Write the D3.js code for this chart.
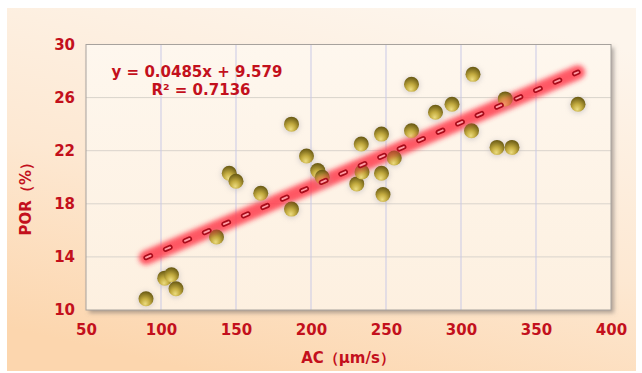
<!DOCTYPE html>
<html>
<head>
<meta charset="utf-8">
<script src="https://cdn.jsdelivr.net/npm/d3@7"></script>
<style>
  body { margin: 0; background: #fff; }
  text { font-family: "DejaVu Sans", Verdana, sans-serif; font-weight: bold; }
</style>
</head>
<body>
<div id="chart"></div>
<script>
// AC (um/s) and POR (%)
const acValues = [90, 102.5, 107, 110, 137, 145.5, 150, 166.5, 187, 187,
    197, 204.5, 207.5, 230.5, 233.5, 234, 247, 247, 248, 255.5,
    267, 267, 283, 294, 307, 308, 324, 334, 329.5, 378];
const porValues = [10.85, 12.4, 12.65, 11.6, 15.5, 20.3, 19.7, 18.8, 17.6, 24.0,
    21.6, 20.5, 20.0, 19.5, 22.5, 20.4, 23.25, 20.3, 18.7, 21.45,
    23.5, 27.0, 24.9, 25.5, 23.5, 27.75, 22.25, 22.25, 25.9, 25.5];
const xTicks = [50, 100, 150, 200, 250, 300, 350, 400];
const yTicks = [10, 14, 18, 22, 26, 30];
const slope = 0.0485;
const intercept = 9.579;
const eqLabel = 'y = 0.0485x + 9.579';
const r2Label = 'R² = 0.7136';
const xTitle = 'AC（μm/s）';
const yTitle = 'POR（%）';

const width = 642;
const height = 373;
const margin = {top: 44.5, right: 31, bottom: 63, left: 86};
const red = '#c3101c';

const x = d3.scaleLinear()
    .domain([50, 400])
    .range([margin.left, width - margin.right]);
const y = d3.scaleLinear()
    .domain([10, 30])
    .range([height - margin.bottom, margin.top]);

const svg = d3.select('#chart').append('svg')
    .attr('width', width)
    .attr('height', height);

const defs = svg.append('defs');

// page background, cream at top to peach at bottom
const bg = defs.append('linearGradient')
    .attr('id', 'bg')
    .attr('x1', 0.7).attr('y1', 0).attr('x2', 0.3).attr('y2', 1);
bg.append('stop').attr('offset', '0%').attr('stop-color', '#fdf5ec');
bg.append('stop').attr('offset', '55%').attr('stop-color', '#fde8d2');
bg.append('stop').attr('offset', '100%').attr('stop-color', '#fcd6ae');

const plotBg = defs.append('linearGradient')
    .attr('id', 'plotbg')
    .attr('x1', 0).attr('y1', 0).attr('x2', 0).attr('y2', 1);
plotBg.append('stop').attr('offset', '0%').attr('stop-color', '#fef7ee');
plotBg.append('stop').attr('offset', '100%').attr('stop-color', '#fdf0e0');

// shiny olive ball
const ball = defs.append('radialGradient')
    .attr('id', 'ball')
    .attr('cx', '45%').attr('cy', '70%').attr('r', '65%')
    .attr('fx', '45%').attr('fy', '85%');
ball.append('stop').attr('offset', '0%').attr('stop-color', '#ecdc80');
ball.append('stop').attr('offset', '45%').attr('stop-color', '#c4ac40');
ball.append('stop').attr('offset', '100%').attr('stop-color', '#6e5e16');

const shadow = defs.append('filter')
    .attr('id', 'shadow')
    .attr('x', '-10%').attr('y', '-10%').attr('width', '130%').attr('height', '130%');
shadow.append('feDropShadow')
    .attr('dx', 3).attr('dy', 3).attr('stdDeviation', 2)
    .attr('flood-color', '#6f6a66').attr('flood-opacity', 0.55);

const halo = defs.append('filter')
    .attr('id', 'halo')
    .attr('x', '-100%').attr('y', '-100%').attr('width', '300%').attr('height', '300%');
halo.append('feGaussianBlur').attr('stdDeviation', 2.5);

const glow = defs.append('filter')
    .attr('id', 'glow')
    .attr('x', '-20%').attr('y', '-50%').attr('width', '140%').attr('height', '200%');
glow.append('feGaussianBlur').attr('stdDeviation', 2.4);

svg.append('rect')
    .attr('x', 7).attr('y', 8)
    .attr('width', 629).attr('height', 363)
    .attr('fill', 'url(#bg)');

// plot area with drop shadow
svg.append('rect')
    .attr('x', x(50)).attr('y', y(30))
    .attr('width', x(400) - x(50)).attr('height', y(10) - y(30))
    .attr('fill', 'url(#plotbg)')
    .attr('filter', 'url(#shadow)');

// grid
svg.append('g')
    .selectAll('line')
    .data(yTicks.slice(1, -1))
    .join('line')
        .attr('x1', x(50)).attr('x2', x(400))
        .attr('y1', d => y(d)).attr('y2', d => y(d))
        .attr('stroke', '#d9d3cc')
        .attr('stroke-width', 1);
svg.append('g')
    .selectAll('line')
    .data(xTicks.slice(1, -1))
    .join('line')
        .attr('x1', d => x(d)).attr('x2', d => x(d))
        .attr('y1', y(30)).attr('y2', y(10))
        .attr('stroke', '#c9c9e6')
        .attr('stroke-width', 1);

svg.append('rect')
    .attr('x', x(50)).attr('y', y(30))
    .attr('width', x(400) - x(50)).attr('height', y(10) - y(30))
    .attr('fill', 'none')
    .attr('stroke', '#a7a29d')
    .attr('stroke-width', 1);

// axes, only the labels are shown
const xAxis = g =>
    g
        .attr('transform', `translate(0,${y(10) + 14})`)
        .call(d3.axisBottom(x).tickValues(xTicks).tickSize(0).tickPadding(0))
        .call(g => g.select('.domain').remove())
        .call(g => g.selectAll('.tick text')
                    .attr('dy', '0.71em')
                    .attr('fill', red)
                    .attr('font-size', '15px')
                    .attr('font-family', '"DejaVu Sans", sans-serif'));
const yAxis = g =>
    g
        .attr('transform', `translate(${x(50) - 11},0)`)
        .call(d3.axisLeft(y).tickValues(yTicks).tickSize(0).tickPadding(0))
        .call(g => g.select('.domain').remove())
        .call(g => g.selectAll('.tick text')
                    .attr('fill', red)
                    .attr('font-size', '15px')
                    .attr('font-family', '"DejaVu Sans", sans-serif'));

svg.append('g').call(xAxis);
svg.append('g').call(yAxis);

// trend line: blurred red glow + chain of dashes
const xMin = d3.min(acValues);
const xMax = d3.max(acValues);
const trend = [[xMin, slope * xMin + intercept], [xMax, slope * xMax + intercept]];
const line = d3.line().x(d => x(d[0])).y(d => y(d[1]));

svg.append('path')
    .attr('d', line(trend))
    .attr('stroke', '#ff3246')
    .attr('stroke-opacity', 0.7)
    .attr('stroke-width', 14)
    .attr('stroke-linecap', 'round')
    .attr('fill', 'none')
    .attr('filter', 'url(#glow)');

// points
const pts = d3.zip(acValues, porValues);
svg.append('g')
    .selectAll('circle')
    .data(pts)
    .join('circle')
        .attr('cx', d => x(d[0]))
        .attr('cy', d => y(d[1]) + 1)
        .attr('r', 8.5)
        .attr('fill', '#b9b4b8')
        .attr('opacity', 0.5)
        .attr('filter', 'url(#halo)');
svg.append('g')
    .selectAll('circle')
    .data(pts)
    .join('circle')
        .attr('cx', d => x(d[0]))
        .attr('cy', d => y(d[1]))
        .attr('r', 7.5)
        .attr('fill', 'url(#ball)');

// glow again on top, softer, so points under the line look tinted
svg.append('path')
    .attr('d', line(trend))
    .attr('stroke', '#ff3a4c')
    .attr('stroke-opacity', 0.45)
    .attr('stroke-width', 11)
    .attr('stroke-linecap', 'round')
    .attr('fill', 'none')
    .attr('filter', 'url(#glow)');

svg.append('path')
    .attr('d', line(trend))
    .attr('stroke', '#a80c1a')
    .attr('stroke-width', 5.2)
    .attr('stroke-dasharray', '5,16.2')
    .attr('stroke-linecap', 'round')
    .attr('fill', 'none');
svg.append('path')
    .attr('d', line(trend))
    .attr('stroke', '#ff9aa2')
    .attr('stroke-width', 1.8)
    .attr('stroke-dasharray', '5,16.2')
    .attr('stroke-linecap', 'round')
    .attr('fill', 'none');

// regression labels
svg.append('text')
    .attr('x', 197).attr('y', 77)
    .attr('text-anchor', 'middle')
    .attr('font-size', '15px')
    .attr('fill', red)
    .text(eqLabel);
svg.append('text')
    .attr('x', 201).attr('y', 95)
    .attr('text-anchor', 'middle')
    .attr('font-size', '15px')
    .attr('fill', red)
    .text(r2Label);

// axis titles
svg.append('text')
    .attr('x', 348).attr('y', 363)
    .attr('text-anchor', 'middle')
    .attr('font-size', '15px')
    .attr('fill', red)
    .text(xTitle);
svg.append('text')
    .attr('transform', `translate(31,${(y(10) + y(30)) / 2 + 18}) rotate(-90)`)
    .attr('text-anchor', 'middle')
    .attr('font-size', '15px')
    .attr('fill', red)
    .text(yTitle);
</script>
</body>
</html>
